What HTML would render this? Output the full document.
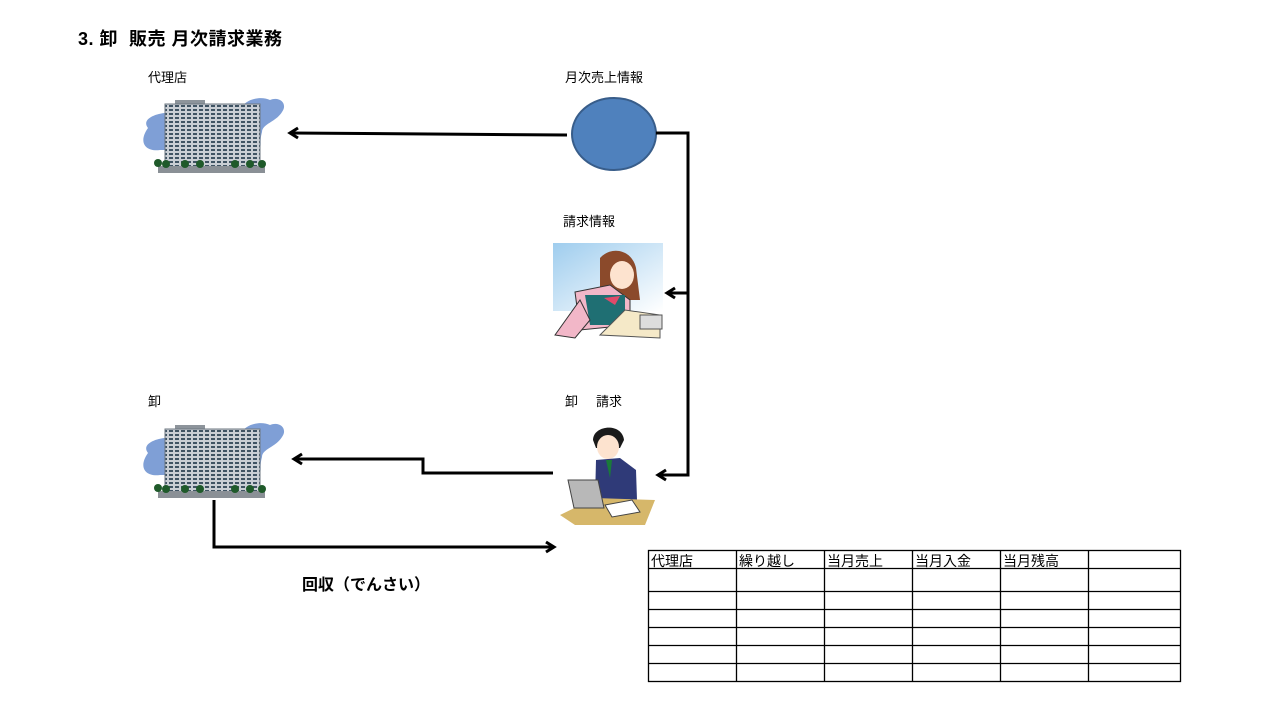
<!DOCTYPE html>
<html><head><meta charset="utf-8"><style>
body{margin:0;background:#fff;}
.t{position:absolute;font-family:"Liberation Sans","Noto Sans CJK JP",sans-serif;font-size:13px;color:#000;white-space:nowrap}
</style></head><body>
<div style="position:relative;width:1271px;height:718px;overflow:hidden">
<svg width="1271" height="718" style="position:absolute;left:0;top:0">
<defs>
<pattern id="stripes" width="6" height="4" patternUnits="userSpaceOnUse">
<rect width="6" height="4" fill="#c9ced4"/><rect x="1" y="1" width="4" height="2" fill="#3f5363"/></pattern>
<linearGradient id="sky" x1="0" y1="0" x2="1" y2="1">
<stop offset="0" stop-color="#9fcdee"/><stop offset="1" stop-color="#ffffff"/></linearGradient>
<g id="bld">
<path d="M148,128 C140,118 160,112 170,113 L240,110 C245,98 262,96 270,100 C280,96 288,104 282,112 C276,122 262,124 262,132 C258,146 266,150 250,150 L160,150 C145,152 138,142 148,128 Z" fill="#7f9fd6"/>
<rect x="175" y="100" width="30" height="5" fill="#8d949b"/>
<rect x="165" y="104" width="95" height="63" fill="url(#stripes)" stroke="#6d7780" stroke-width="1"/>
<rect x="158" y="166" width="107" height="7" fill="#8a9096"/>
<g fill="#1f5a2a"><circle cx="158" cy="163" r="4"/><circle cx="166" cy="164" r="4"/><circle cx="185" cy="164" r="4"/><circle cx="200" cy="164" r="4"/><circle cx="235" cy="164" r="4"/><circle cx="250" cy="164" r="4"/><circle cx="262" cy="164" r="4"/></g>
</g>
</defs>
<use href="#bld"/>
<use href="#bld" transform="translate(0,325)"/>
<ellipse cx="614" cy="134" rx="42" ry="36" fill="#4f81bd" stroke="#385d8a" stroke-width="2"/>
<g fill="none" stroke="#000" stroke-width="3">
<path d="M567,135 L290,133"/><path d="M298,128 L290,133 L298,138"/>
<path d="M656,133 L688,133 L688,475 L658,475"/><path d="M666,470 L658,475 L666,480"/>
<path d="M688,293 L667,293"/><path d="M675,288 L667,293 L675,298"/>
<path d="M553,473 L423,473 L423,459 L294,459"/><path d="M302,454 L294,459 L302,464"/>
<path d="M214,500 L214,547 L554,547"/><path d="M546,542 L554,547 L546,552"/>
</g>
<!-- woman -->
<rect x="553" y="243" width="110" height="68" fill="url(#sky)"/>
<path d="M600,258 C612,245 632,250 636,268 L640,300 L620,300 L600,290 Z" fill="#8b4a2b"/>
<ellipse cx="622" cy="275" rx="12" ry="14" fill="#fde3cf"/>
<path d="M575,292 L610,285 L630,300 L630,325 L580,330 Z" fill="#f2b7c8" stroke="#333" stroke-width="1"/>
<path d="M585,295 L625,295 L625,325 L590,325 Z" fill="#1f6f73"/>
<path d="M555,335 L580,300 L590,320 L575,338 Z" fill="#f2b7c8" stroke="#333" stroke-width="1"/>
<path d="M600,335 L625,310 L660,315 L660,338 Z" fill="#f5e9c8" stroke="#555" stroke-width="1"/>
<rect x="640" y="315" width="22" height="14" fill="#ddd" stroke="#555"/>
<path d="M604,298 L620,296 L615,305 Z" fill="#e04a6a"/>
<!-- man -->
<path d="M593,440 C593,425 622,422 624,440 L620,448 L596,448 Z" fill="#1a1a1a"/>
<ellipse cx="608" cy="447" rx="11" ry="12" fill="#fde3cf"/>
<path d="M596,460 L620,458 L636,470 L637,500 L595,500 Z" fill="#2f3a78"/>
<path d="M606,460 L612,460 L610,478 Z" fill="#1a7a3a"/>
<path d="M560,515 L595,498 L655,500 L645,525 L575,525 Z" fill="#d6b76a"/>
<path d="M568,480 L598,480 L604,508 L574,508 Z" fill="#b8b8b8" stroke="#444"/>
<path d="M605,505 L632,500 L640,512 L612,517 Z" fill="#fff" stroke="#444"/>
<!-- table -->
<g stroke="#000" stroke-width="1.3" fill="none">
<rect x="648.5" y="550.5" width="532" height="131"/>
<path d="M648,568.5H1181M648,591.5H1181M648,609.5H1181M648,627.5H1181M648,645.5H1181M648,663.5H1181"/>
<path d="M736.5,550V682M824.5,550V682M912.5,550V682M1000.5,550V682M1088.5,550V682"/>
</g>
<g font-family="Liberation Sans, Noto Sans CJK JP, sans-serif" font-size="14" fill="#000">
<text x="651" y="566">代理店</text><text x="739" y="566">繰り越し</text><text x="827" y="566">当月売上</text><text x="915" y="566">当月入金</text><text x="1003" y="566">当月残高</text>
</g>
</svg>
<div class="t" style="left:78px;top:25px;font-size:18px;font-weight:bold;letter-spacing:0.5px">3. 卸&nbsp; 販売 月次請求業務</div>
<div class="t" style="left:148px;top:67px">代理店</div>
<div class="t" style="left:565px;top:67px">月次売上情報</div>
<div class="t" style="left:563px;top:211px">請求情報</div>
<div class="t" style="left:148px;top:391px">卸</div>
<div class="t" style="left:565px;top:391px">卸&nbsp;&nbsp;&nbsp;&nbsp; 請求</div>
<div class="t" style="left:302px;top:571px;font-size:16px;font-weight:bold">回収（でんさい）</div>
</div>
</body></html>
